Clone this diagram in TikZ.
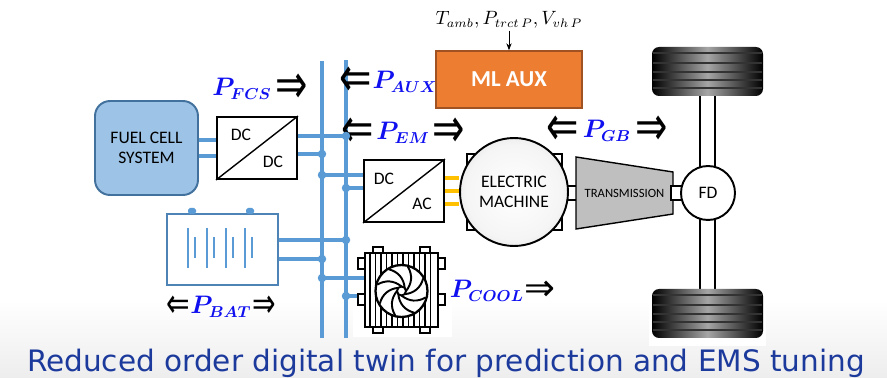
\documentclass[tikz,border=0pt]{standalone}
\usepackage{fontspec}
\usepackage{bm}
\usetikzlibrary{positioning,arrows.meta,calc,backgrounds}
\newfontfamily\calibri{Carlito}
\newfontfamily\verdana{DejaVu Sans}
\newcommand{\tallarrow}[1]{\scalebox{1}[1.45]{#1}}

\definecolor{busblue}{RGB}{91,155,213}
\definecolor{fcsfill}{RGB}{157,195,230}
\definecolor{fcsline}{RGB}{65,113,156}
\definecolor{auxorange}{RGB}{237,125,49}
\definecolor{auxline}{RGB}{160,82,35}
\definecolor{acyellow}{RGB}{255,192,0}
\definecolor{gbgrey}{RGB}{191,191,191}
\definecolor{powerblue}{RGB}{15,15,240}
\definecolor{titleblue}{RGB}{28,58,156}

\pgfdeclareradialshading{emshade}{\pgfpoint{0bp}{0bp}}{color(0bp)=(white); color(22bp)=(white!96!black); color(42bp)=(gray!40); color(50bp)=(gray!60)}

\tikzset{
  busline/.style={busblue, line width=2pt},
  acline/.style={acyellow, line width=2pt},
  convbox/.style={draw, line width=1.1pt, fill=white, minimum width=1.6cm, minimum height=1.24cm},
  boxtext/.style={font=\calibri\fontsize{10}{11.5}\selectfont, align=center},
  plabel/.style={text=powerblue, font=\fontsize{13.5}{14}\selectfont, inner sep=0pt},
  parrow/.style={font=\verdana\fontsize{22}{22}\selectfont, inner sep=0pt},
  tab/.style={fill=white, line width=1pt},
}

\begin{document}
\begin{tikzpicture}[x=0.02cm, y=-0.02cm]
\useasboundingbox (0,0) rectangle (887,378);

% fuel cell branch
\node[draw=fcsline, fill=fcsfill, line width=1.1pt, rounded corners=0.3cm,
      minimum width=2.06cm, minimum height=1.88cm, boxtext] (fcs) at (146.5,148) {FUEL CELL\\SYSTEM};
\node[convbox] (dcdc) at (257,148) {};
\draw[line width=0.8pt] (dcdc.south west) -- (dcdc.north east);
\node[boxtext] at (241,135) {DC};
\node[boxtext] at (273,162) {DC};

% battery
\node[draw=busblue!85!black, line width=1.1pt, fill=white, minimum width=2.22cm, minimum height=1.42cm] (bat) at (222.5,249.5) {};
\foreach \tx in {192,250}
  \fill[busblue, rounded corners=1pt] (\tx-4,208) rectangle (\tx+4,214);
\foreach \cx in {188,207,226,245} {
  \draw[busblue, line width=1.2pt] (\cx,228) -- (\cx,268);
  \draw[busblue, line width=1.2pt] (\cx+7,237) -- (\cx+7,258);
}

% traction inverter and machine
\node[convbox] (dcac) at (404,191) {};
\draw[line width=0.8pt] (dcac.south west) -- (dcac.north east);
\node[boxtext] at (384,179) {DC};
\node[boxtext] at (422,204) {AC};
\draw[fill=white, line width=0.9pt] (467,154) rectangle (562,230);
\draw[fill=white, line width=0.9pt] (558,186) rectangle (578,200);
\node[circle, draw, line width=1.1pt, shading=emshade, minimum size=2.16cm, boxtext] (em) at (514,192) {ELECTRIC\\MACHINE};

% transmission and final drive
\draw[fill=gbgrey, line width=0.8pt] (576,157) -- (673,172) -- (673,214) -- (576,229) -- cycle;
\node[font=\calibri\fontsize{7.2}{8}\selectfont] (gb) at (624.5,193) {TRANSMISSION};
\draw[fill=white, line width=0.9pt] (700,90) rectangle (715,295);
\draw[fill=white, line width=0.9pt] (671,186) rectangle (685,200);
\node[circle, draw, line width=1.1pt, fill=white, minimum size=1.08cm, boxtext] (fd) at (708,193) {FD};

% wheels
\foreach \ty in {47,289} {
  \shade[left color=black, right color=black, middle color=gray!70, rounded corners=4pt] (652,\ty) rectangle (763,\ty+49);
  \foreach \g in {6,16,25,33,41}
    \draw[black!80, line width=0.8pt] (653,\ty+\g) -- (762,\ty+\g);
}

% auxiliaries model
\node[draw=auxline, fill=auxorange, line width=0.8pt, minimum width=2.92cm, minimum height=1.14cm,
      text=white, font=\calibri\bfseries\fontsize{13}{14}\selectfont] (mlaux) at (509,79.5) {ML AUX};
\node[inner sep=1pt, font=\fontsize{10.5}{12}\selectfont] (inputs) at (509,20) {$T_{amb}, P_{trct\,P}, V_{vh\,P}$};
\draw[-{Stealth[length=4pt,width=3pt]}, line width=0.5pt] (inputs) -- (mlaux);

% cooling fan
\foreach \tx in {373,420} {
  \draw[tab] (\tx,247) rectangle (\tx+10,254);
  \draw[tab] (\tx,326) rectangle (\tx+10,333);
}
\foreach \ty in {258,294} {
  \draw[tab] (358,\ty) rectangle (365,\ty+11);
  \draw[tab] (438,\ty) rectangle (445,\ty+11);
}
\node[draw, line width=1.5pt, fill=white, minimum width=1.46cm, minimum height=1.48cm] (rad) at (401.5,290) {};
\foreach \sx in {370,375.5,...,434}
  \draw[line width=1.1pt] (\sx,253) -- (\sx,327);
\node[circle, draw, fill=white, line width=1.3pt, minimum size=1.04cm] (fan) at (401.5,291) {};
\foreach \a in {0,45,...,315}
  \draw[line width=1.1pt] ($(fan.center)+(\a:0.09cm)$) to[bend right=35] ($(fan.center)+(\a+75:0.5cm)$);
\draw[line width=1.1pt, fill=white] (fan.center) circle (0.09cm);

% power flows
\node[plabel] (pfcs) at (242,89) {$\bm{P_{FCS}}$};
\node[parrow, right=2pt of pfcs] (afcs) {\tallarrow{⇒}};
\node[plabel] (paux) at (405,82) {$\bm{P_{AUX}}$};
\node[parrow, left=0pt of paux] (aaux) {\tallarrow{⇐}};
\node[plabel] (pem) at (403,133) {$\bm{P_{EM}}$};
\node[parrow, left=1pt of pem] (aeml) {\tallarrow{⇐}};
\node[parrow, right=1pt of pem] (aemr) {\tallarrow{⇒}};
\node[plabel] (pgb) at (607,131) {$\bm{P_{GB}}$};
\node[parrow, left=2pt of pgb] (agbl) {\tallarrow{⇐}};
\node[parrow, right=2pt of pgb] (agbr) {\tallarrow{⇒}};
\node[plabel] (pbat) at (221,307) {$\bm{P_{BAT}}$};
\node[parrow, font=\verdana\fontsize{16}{16}\selectfont, left=0pt of pbat] (abatl) {\tallarrow{⇐}};
\node[parrow, font=\verdana\fontsize{16}{16}\selectfont, right=0pt of pbat] (abatr) {\tallarrow{⇒}};
\node[plabel] (pcool) at (487,291) {$\bm{P_{COOL}}$};
\node[parrow, font=\verdana\fontsize{21}{21}\selectfont, right=0pt of pcool] (acool) {⇒};

\node[anchor=base, text=titleblue, font=\verdana\fontsize{16.8}{18}\selectfont] (title) at (446,372)
  {Reduced order digital twin for prediction and EMS tuning};

% dc bus and wiring
\coordinate (f1) at (0,140);
\coordinate (f2) at (0,156);
\coordinate (j1) at (346,136);
\coordinate (j2) at (322,154);
\coordinate (j3) at (322,175);
\coordinate (j4) at (346,188);
\coordinate (j5) at (346,240);
\coordinate (j6) at (322,259);
\coordinate (j7) at (322,278);
\coordinate (j8) at (346,296);
\begin{scope}[on background layer]
  \shade[top color=white, bottom color=gray!14] (0,300) rectangle (887,378);
  \fill[white] (353,244) rectangle (452,337);
  \fill[white] (649,286) rectangle (766,346);
  \draw[busline] (322,61) -- (322,338);
  \draw[busline] (346,60) -- (346,338);
  \draw[busline] (f1 -| fcs.east) -- (f1 -| dcdc.west);
  \draw[busline] (f2 -| fcs.east) -- (f2 -| dcdc.west);
  \draw[busline] (j1 -| dcdc.east) -- (j1);
  \draw[busline] (j2 -| dcdc.east) -- (j2);
  \draw[busline] (j3) -- (j3 -| dcac.west);
  \draw[busline] (j4) -- (j4 -| dcac.west);
  \draw[busline] (j5 -| bat.east) -- (j5);
  \draw[busline] (j6 -| bat.east) -- (j6);
  \draw[busline] (j7) -- (j7 -| rad.west);
  \draw[busline] (j8) -- (j8 -| rad.west);
  \foreach \y in {178,191,204}
    \draw[acline] (dcac.east |- 0,\y) -- (em.west |- 0,\y);
\end{scope}
\foreach \j in {j1,j2,j3,j4,j5,j6,j7,j8}
  \fill[busblue] (\j) circle (0.085cm);

\end{tikzpicture}
\end{document}
